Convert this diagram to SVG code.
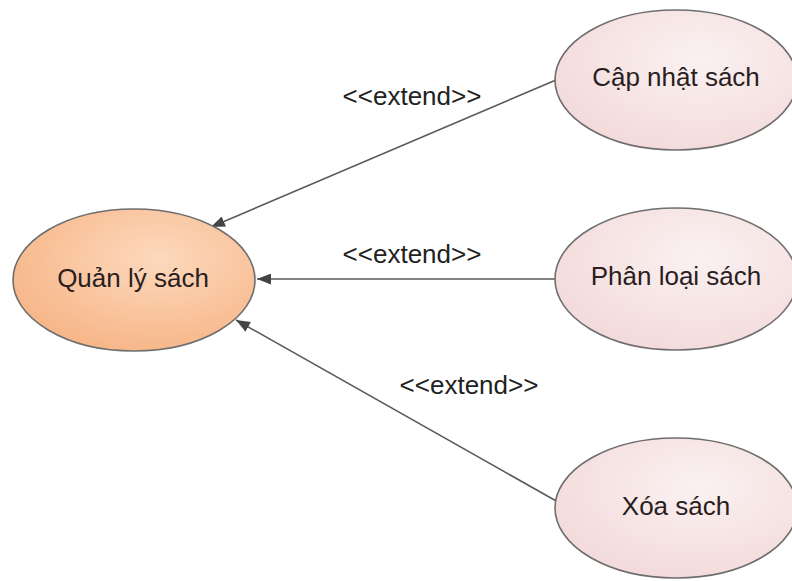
<svg xmlns="http://www.w3.org/2000/svg" width="792" height="581" viewBox="0 0 792 581">
<style>
.lbl{font-family:"Liberation Sans",Arial,sans-serif;font-size:26px;fill:#2a1e1e;text-anchor:middle}
.ext{font-family:"Liberation Sans",Arial,sans-serif;font-size:26px;fill:#222;text-anchor:middle}
.uc{stroke:#6e6e6e;stroke-width:1.6}
.conn line{stroke:#5a5a5a;stroke-width:1.6;fill:none}
</style>
<defs>
<radialGradient id="gMain" cx="0.6" cy="0.35" r="0.75">
<stop offset="0" stop-color="#fdd9bd"/>
<stop offset="1" stop-color="#f6b282"/>
</radialGradient>
<radialGradient id="gSub" cx="0.6" cy="0.35" r="0.75">
<stop offset="0" stop-color="#fbf1f1"/>
<stop offset="1" stop-color="#f2d8d8"/>
</radialGradient>
<marker id="arr" viewBox="0 0 14 11" refX="14" refY="5.5" markerWidth="14" markerHeight="11" markerUnits="userSpaceOnUse" orient="auto">
<path d="M0,0 L14,5.5 L0,11 Z" fill="#444"/>
</marker>
</defs>
<rect width="792" height="581" fill="#ffffff"/>
<g id="connectors" class="conn">
<line x1="556" y1="80" x2="211" y2="227" marker-end="url(#arr)"/>
<line x1="555" y1="279" x2="257" y2="279" marker-end="url(#arr)"/>
<line x1="558" y1="502" x2="236" y2="320" marker-end="url(#arr)"/>
<text class="ext" x="412" y="105">&lt;&lt;extend&gt;&gt;</text>
<text class="ext" x="412" y="263">&lt;&lt;extend&gt;&gt;</text>
<text class="ext" x="469" y="394">&lt;&lt;extend&gt;&gt;</text>
</g>
<g id="quan-ly-sach">
<ellipse class="uc" cx="134" cy="280" rx="121" ry="71" fill="url(#gMain)" stroke="#6b5a50"/>
<text class="lbl" x="133" y="287">Quản lý sách</text>
</g>
<g id="cap-nhat-sach">
<ellipse class="uc" cx="676" cy="80" rx="121" ry="70" fill="url(#gSub)"/>
<text class="lbl" x="676" y="86">Cập nhật sách</text>
</g>
<g id="phan-loai-sach">
<ellipse class="uc" cx="676" cy="279" rx="121" ry="71" fill="url(#gSub)"/>
<text class="lbl" x="676" y="285">Phân loại sách</text>
</g>
<g id="xoa-sach">
<ellipse class="uc" cx="676" cy="508" rx="121" ry="70" fill="url(#gSub)"/>
<text class="lbl" x="676" y="515">Xóa sách</text>
</g>
</svg>
